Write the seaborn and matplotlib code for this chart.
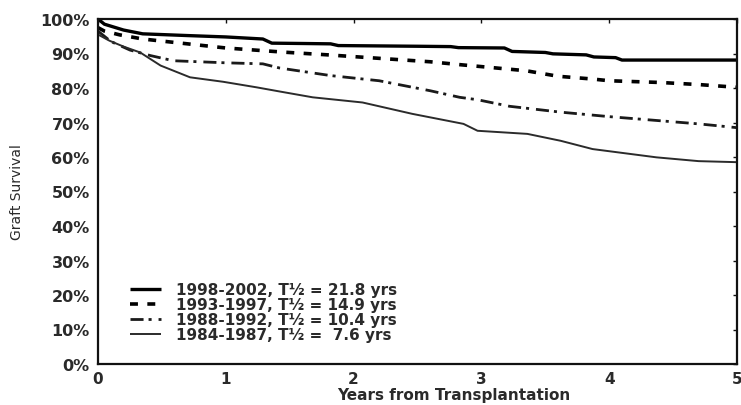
import matplotlib
matplotlib.use("Agg")
import matplotlib.pyplot as plt
import numpy as np
import pandas as pd
import seaborn as sns
from matplotlib.ticker import FuncFormatter

# ---- data ----
cohorts = ["1998-2002", "1993-1997", "1988-1992", "1984-1987"]
half_lives = ["21.8 yrs", "14.9 yrs", "10.4 yrs", " 7.6 yrs"]

years_9802 = [0, 0.05, 0.2, 0.35, 0.7, 1.0, 1.29, 1.36, 1.6, 1.82, 1.88, 2.5, 2.76,
              2.82, 3.18, 3.24, 3.5, 3.56, 3.82, 3.88, 4.05, 4.1, 5.0]
surv_9802 = [100, 98.5, 96.8, 95.7, 95.2, 94.8, 94.2, 93.0, 92.9, 92.8, 92.3, 92.1, 92.0,
             91.7, 91.6, 90.6, 90.3, 89.9, 89.6, 89.0, 88.8, 88.1, 88.1]

years_9397 = [0, 0.05, 0.17, 0.35, 0.6, 1.0, 1.45, 1.8, 2.2, 2.6, 2.85, 3.0, 3.35,
              3.6, 3.87, 4.0, 4.4, 4.7, 5.0]
surv_9397 = [97.5, 96.5, 95.4, 94.2, 93.2, 91.6, 90.4, 89.6, 88.6, 87.6, 86.7, 86.2, 85.0,
             83.4, 82.6, 82.1, 81.6, 81.0, 80.2]

years_8892 = [0, 0.1, 0.25, 0.41, 0.59, 1.0, 1.29, 1.42, 1.82, 2.2, 2.6, 2.83, 2.97,
              3.22, 3.62, 4.0, 4.4, 4.7, 5.0]
surv_8892 = [96.5, 93.5, 91.0, 89.4, 87.9, 87.3, 87.0, 85.8, 83.6, 82.1, 79.2, 77.3, 76.6,
             74.7, 73.0, 71.7, 70.5, 69.6, 68.5]

years_8487 = [0, 0.09, 0.2, 0.33, 0.49, 0.72, 0.98, 1.24, 1.42, 1.68, 2.07, 2.46, 2.86,
              2.97, 3.36, 3.62, 3.87, 4.37, 4.7, 5.0]
surv_8487 = [95.5, 93.7, 92.0, 90.3, 86.5, 83.1, 81.8, 80.2, 79.0, 77.3, 75.8, 72.5, 69.6,
             67.6, 66.7, 64.7, 62.3, 59.9, 58.8, 58.5]

x_ticks = [0, 1, 2, 3, 4, 5]
y_ticks = [0, 10, 20, 30, 40, 50, 60, 70, 80, 90, 100]

frames = []
for c, xs, ys in zip(cohorts,
                     [years_9802, years_9397, years_8892, years_8487],
                     [surv_9802, surv_9397, surv_8892, surv_8487]):
    frames.append(pd.DataFrame({"Years": xs, "Survival": ys, "Cohort": c}))
df = pd.concat(frames, ignore_index=True)

sns.set_style("white")
plt.rcParams["font.family"] = ["DejaVu Sans"]

fig = plt.figure(figsize=(7.41, 4.06), dpi=100)
ax = fig.add_axes([98 / 741, 41 / 406, 639 / 741, 345 / 406])

palette = {"1998-2002": "#000000", "1993-1997": "#000000",
           "1988-1992": "#1a1a1a", "1984-1987": "#2b2b2b"}
dashes = {"1998-2002": "", "1993-1997": (2.2, 2.6),
          "1988-1992": (4.7, 1.8, 1.1, 2.5), "1984-1987": ""}
sizes = {"1998-2002": 2.4, "1993-1997": 2.6, "1988-1992": 2.0, "1984-1987": 1.4}

sns.lineplot(data=df, x="Years", y="Survival", hue="Cohort", style="Cohort",
             size="Cohort", palette=palette, dashes=dashes, sizes=sizes,
             hue_order=cohorts, style_order=cohorts, size_order=cohorts,
             estimator=None, sort=False, legend=False, ax=ax)

for ln in ax.get_lines():
    ln.set_dash_capstyle("butt")
    ln.set_solid_capstyle("butt")

ax.set_xlim(0, 5)
ax.set_ylim(0, 100)
ax.set_xticks(x_ticks)
ax.set_xticklabels([str(t) for t in x_ticks])
ax.set_yticks(y_ticks)
ax.yaxis.set_major_formatter(FuncFormatter(lambda v, p: f"{v:.0f}%"))

for s in ax.spines.values():
    s.set_visible(True)
    s.set_linewidth(1.6)
    s.set_color("#111111")

ax.tick_params(axis="both", direction="in", length=3, width=1, top=True, right=True,
               colors="#111111")
ax.tick_params(axis="y", pad=6, labelsize=11.5)
ax.tick_params(axis="x", pad=5, labelsize=11)
for lab in ax.get_xticklabels() + ax.get_yticklabels():
    lab.set_fontweight("bold")
    lab.set_color("#2a2a2a")

ax.set_xlabel("Years from Transplantation", fontsize=11, fontweight="bold", color="#2a2a2a")
ax.xaxis.set_label_coords(0.557, -0.066)
ax.set_ylabel("Graft Survival", fontsize=10, color="#2a2a2a")
ax.yaxis.set_label_coords(-0.116, 0.5)

handles = ax.get_lines()[:4]
labels = [f"{c}, T½ = {h}" for c, h in zip(cohorts, half_lives)]
leg = ax.legend(handles, labels, loc="upper left", bbox_to_anchor=(0.05, 0.238),
                frameon=False, borderpad=0, borderaxespad=0, handlelength=2.0,
                handletextpad=1.0, labelspacing=0.0,
                prop={"weight": "bold", "size": 11})
for t in leg.get_texts():
    t.set_color("#2a2a2a")

fig.savefig("out.png", dpi=100)
